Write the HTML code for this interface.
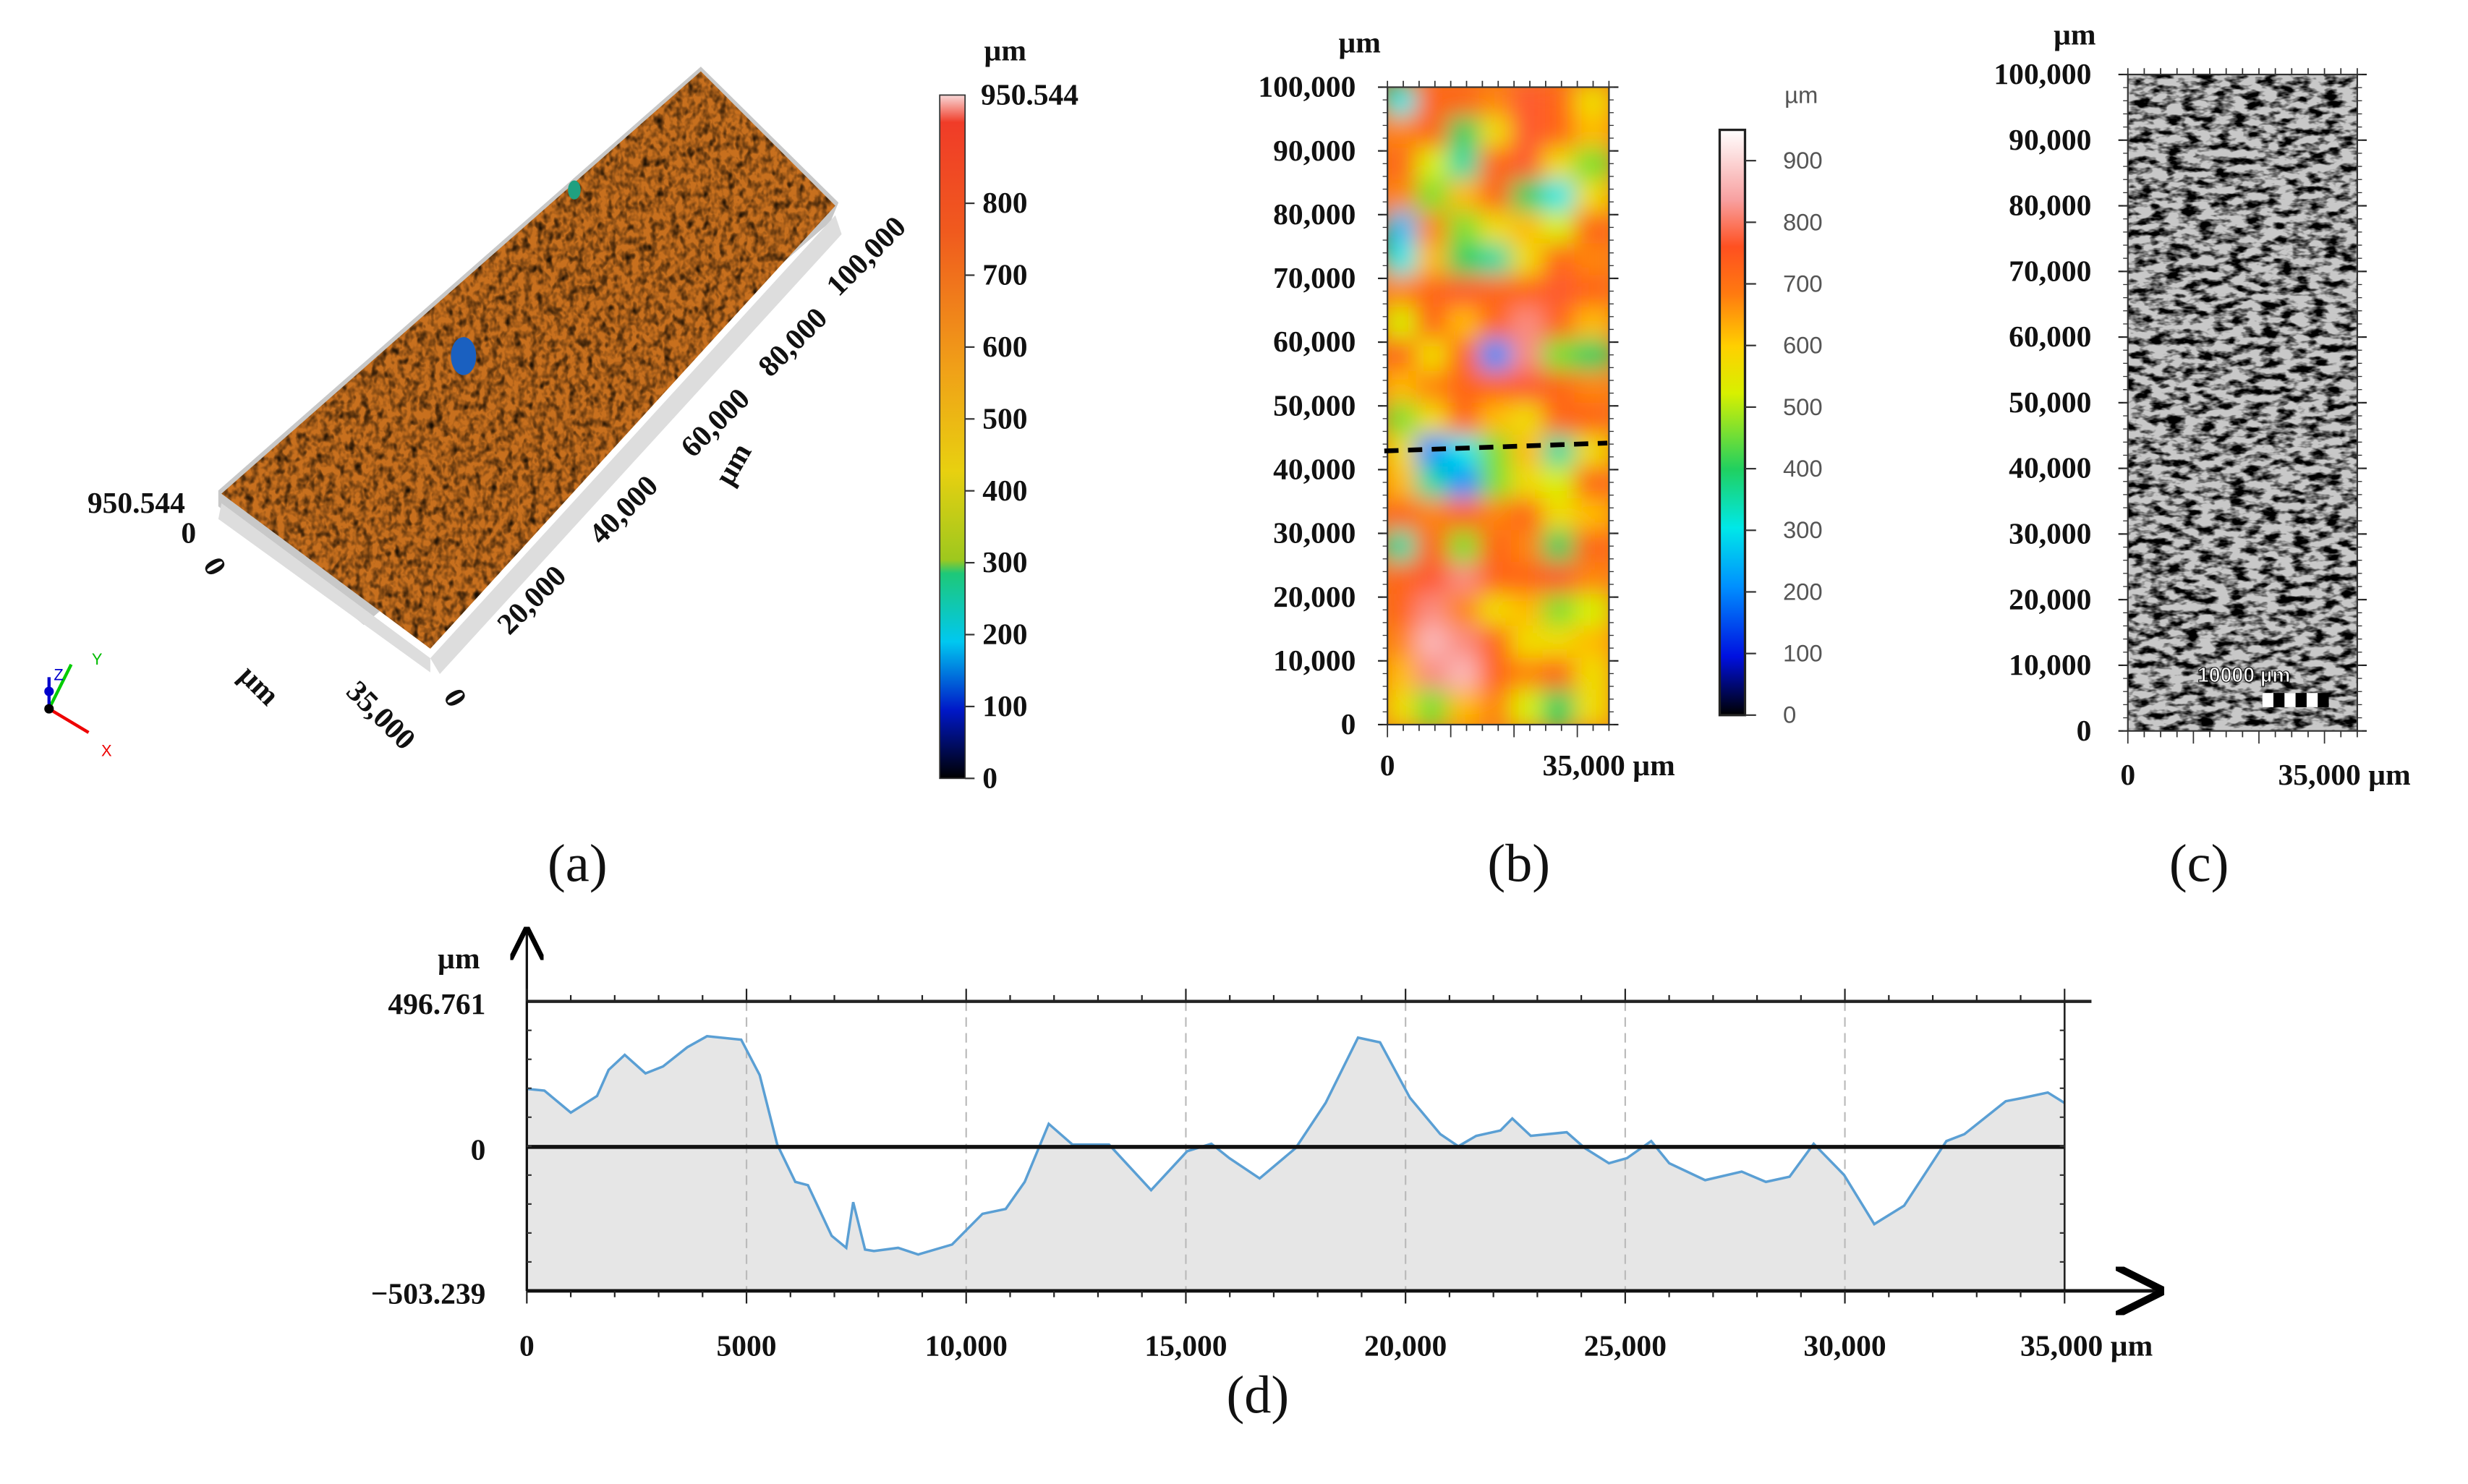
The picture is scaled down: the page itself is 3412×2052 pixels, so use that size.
<!DOCTYPE html>
<html><head><meta charset="utf-8"><style>
html,body{margin:0;padding:0;background:#fff;}
svg{display:block;}
.lb{font-family:"Liberation Serif",serif;font-weight:bold;font-size:19px;fill:#111;}
.cap{font-family:"Liberation Serif",serif;font-size:34px;fill:#111;}
.sl{font-family:"Liberation Sans",sans-serif;font-size:15px;fill:#555;}
</style></head><body>
<svg id="fig" width="3412" height="2052" viewBox="0 0 1560 938" xmlns="http://www.w3.org/2000/svg">
<defs>
<filter id="tex" x="0" y="0" width="100%" height="100%">
<feTurbulence type="fractalNoise" baseFrequency="0.25 0.2" numOctaves="2" seed="4"/>
<feColorMatrix type="matrix" values="0 0 0 0 0  0 0 0 0 0  0 0 0 0 0  0 0 0 -2.2 1.3"/>
<feComposite in2="SourceGraphic" operator="in"/>
</filter>
<filter id="tex2" x="0" y="0" width="100%" height="100%">
<feTurbulence type="fractalNoise" baseFrequency="0.2 0.15" numOctaves="2" seed="11"/>
<feColorMatrix type="matrix" values="0 0 0 0 0  0 0 0 0 0  0 0 0 0 0  0 0 0 3 -1.6"/>
<feComposite in2="SourceGraphic" operator="in"/>
</filter>
<filter id="gtex" x="0" y="0" width="100%" height="100%">
<feTurbulence type="fractalNoise" baseFrequency="0.1 0.22" numOctaves="3" seed="7"/>
<feColorMatrix type="matrix" values="0 0 0 0 0  0 0 0 0 0  0 0 0 0 0  0 0 0 -3.5 2.05"/>
<feComposite in2="SourceGraphic" operator="in"/>
</filter>
<filter id="blur"><feGaussianBlur stdDeviation="7"/></filter>
<linearGradient id="cbA" x1="0" y1="1" x2="0" y2="0">
<stop offset="0" stop-color="#000"/><stop offset="0.1" stop-color="#0018c8"/><stop offset="0.2" stop-color="#00c8f0"/><stop offset="0.3" stop-color="#1ec878"/><stop offset="0.32" stop-color="#9ec81e"/><stop offset="0.45" stop-color="#e8d010"/><stop offset="0.6" stop-color="#f0a018"/><stop offset="0.8" stop-color="#f05a1e"/><stop offset="0.96" stop-color="#f03c28"/><stop offset="1" stop-color="#f8d8d8"/>
</linearGradient>
<linearGradient id="cbB" x1="0" y1="1" x2="0" y2="0">
<stop offset="0" stop-color="#000"/><stop offset="0.1" stop-color="#0010e0"/><stop offset="0.22" stop-color="#0090ff"/><stop offset="0.32" stop-color="#00e8e8"/><stop offset="0.42" stop-color="#20d060"/><stop offset="0.55" stop-color="#d8f000"/><stop offset="0.63" stop-color="#ffd000"/><stop offset="0.72" stop-color="#ff7a10"/><stop offset="0.8" stop-color="#ff5020"/><stop offset="0.88" stop-color="#f8a0a0"/><stop offset="1" stop-color="#fff"/>
</linearGradient>
<clipPath id="clipB"><rect x="877" y="55" width="140" height="403"/></clipPath>
<marker id="ah" viewBox="0 0 10 10" refX="9" refY="5" markerWidth="14" markerHeight="14" orient="auto"><path d="M0,0 L10,5 L0,10" fill="none" stroke="#000" stroke-width="1.5"/></marker>
</defs>

<!-- Panel A -->
<g>
<polygon points="138,310 443,42 530,128 525,140 230,395 138,320" fill="#c8c8c8"/>
<polygon points="140,312 443,45 528,130 272,410" fill="#c8701e"/>
<polygon points="140,312 443,45 528,130 272,410" fill="#b8c020" filter="url(#tex2)" opacity="0.8"/>
<polygon points="140,312 443,45 528,130 272,410" fill="#3a4a10" filter="url(#tex)" opacity="0.6"/>
<ellipse cx="293" cy="225" rx="8" ry="12" fill="#1a60c0"/>
<ellipse cx="363" cy="120" rx="4" ry="6" fill="#20a080"/>
<polygon points="140,318 272,416 272,425 138,328" fill="#ddd"/>
<polygon points="272,416 528,136 532,148 278,426" fill="#ddd"/>
<text class="lb" x="117" y="324" text-anchor="end">950.544</text>
<text class="lb" x="124" y="343" text-anchor="end">0</text>
<text class="lb" transform="translate(128,357) rotate(60)">0</text>
<text class="lb" transform="translate(150,428) rotate(45)">µm</text>
<text class="lb" transform="translate(218,438) rotate(45)">35,000</text>
<text class="lb" transform="translate(280,440) rotate(60)">0</text>
<text class="lb" transform="translate(322,402) rotate(-45)">20,000</text>
<text class="lb" transform="translate(380,345) rotate(-45)">40,000</text>
<text class="lb" transform="translate(438,290) rotate(-45)">60,000</text>
<text class="lb" transform="translate(487,239) rotate(-45)">80,000</text>
<text class="lb" transform="translate(530,188) rotate(-45)">100,000</text>
<text class="lb" transform="translate(462,308) rotate(-60)">µm</text>
<g>
<line x1="31" y1="448" x2="45" y2="420" stroke="#0c0" stroke-width="2"/>
<line x1="31" y1="448" x2="56" y2="463" stroke="#e00" stroke-width="2"/>
<line x1="31" y1="448" x2="31" y2="428" stroke="#00c" stroke-width="2"/>
<circle cx="31" cy="448" r="3" fill="#000"/><circle cx="31" cy="437" r="3" fill="#00c"/>
<text x="34" y="430" font-size="10" fill="#00c" font-family="Liberation Sans">Z</text>
<text x="58" y="420" font-size="10" fill="#0b0" font-family="Liberation Sans">Y</text>
<text x="64" y="478" font-size="10" fill="#e00" font-family="Liberation Sans">X</text>
</g>
<g>
<rect x="594" y="60" width="16" height="432" fill="url(#cbA)" stroke="#333" stroke-width="0.8"/>
<text class="lb" x="622" y="38">µm</text>
<text class="lb" x="620" y="66">950.544</text>
<g id="cbAticks"></g>
</g>
<text class="cap" x="365" y="557" text-anchor="middle">(a)</text>
</g>

<!-- Panel B -->
<g>
<rect x="877" y="55" width="140" height="403" fill="#f07a20"/>
<g clip-path="url(#clipB)"><g id="heat" filter="url(#blur)"></g></g>
<rect x="877" y="55" width="140" height="403" fill="none" stroke="#333" stroke-width="1"/>
<g id="bTicks"></g>
<line x1="875" y1="285" x2="1016" y2="280" stroke="#000" stroke-width="3" stroke-dasharray="9,6"/>
<text class="lb" x="846" y="33">µm</text>
<text class="lb" x="877" y="490" text-anchor="middle">0</text>
<text class="lb" x="975" y="490">35,000 µm</text>
<g>
<rect x="1087" y="82" width="16" height="370" fill="url(#cbB)" stroke="#222" stroke-width="1.5"/>
<text class="sl" x="1128" y="65">µm</text>
<g id="cbBticks"></g>
</g>
<text class="cap" x="960" y="557" text-anchor="middle">(b)</text>
</g>

<!-- Panel C -->
<g>
<rect x="1345" y="47" width="145" height="415" fill="#c8c8c8"/>
<rect x="1345" y="47" width="145" height="415" fill="#000" filter="url(#gtex)"/>
<rect x="1345" y="47" width="145" height="415" fill="none" stroke="#333" stroke-width="1"/>
<g id="cTicks"></g>
<text class="lb" x="1298" y="28">µm</text>
<text class="lb" x="1345" y="496" text-anchor="middle">0</text>
<text class="lb" x="1440" y="496">35,000 µm</text>
<text x="1389" y="431" font-family="Liberation Sans" font-weight="bold" font-size="13" fill="#fff" stroke="#000" stroke-width="0.5">10000 µm</text>
<g><rect x="1430" y="438" width="42" height="9" fill="#000"/><rect x="1430" y="438" width="7" height="9" fill="#fff"/><rect x="1444" y="438" width="7" height="9" fill="#fff"/><rect x="1458" y="438" width="7" height="9" fill="#fff"/></g>
<text class="cap" x="1390" y="557" text-anchor="middle">(c)</text>
</g>

<!-- Panel D -->
<g>
<g id="prof"></g>
<text class="cap" x="795" y="893" text-anchor="middle">(d)</text>
</g>
</svg>
<script>
// Profile data (panel d)
const profX = [0,400,1000,1600,1860,2230,2700,3100,3650,4100,4880,5300,5700,6110,6400,6940,7270,7430,7700,7900,8450,8910,9680,10370,10900,11330,11880,12420,13250,14210,15030,15580,15990,16680,17500,18180,18920,19420,20100,20790,21200,21610,22160,22430,22850,23670,24080,24630,25040,25590,26000,26820,27650,28200,28740,29290,29980,30670,31350,32310,32720,33660,34070,34620,35000];
const profY = [198,192,117,174,263,314,251,275,340,378,366,245,8,-122,-134,-311,-353,-193,-359,-364,-353,-376,-341,-234,-217,-122,79,8,8,-151,-15,11,-39,-110,-4,150,373,357,168,44,2,38,56,97,38,50,-4,-57,-39,20,-57,-116,-86,-122,-104,11,-98,-270,-205,20,44,156,168,186,150];
const xTicks = [0,5000,10000,15000,20000,25000,30000,35000];
const xTickLabels = ["0","5000","10,000","15,000","20,000","25,000","30,000","35,000 µm"];
const yTicks = [496.761,0,-503.239];
const yTickLabels = ["496.761","0","\u2212503.239"];
// Heatmap (panel b), rows top (100k) to bottom (0), 7 columns
const heatVals = [
[300,700,700,650,750,700,550],[650,700,400,550,750,700,600],[700,500,350,700,750,550,450],
[650,450,600,700,400,300,550],[250,650,450,550,600,500,700],[300,600,400,350,550,700,650],
[650,700,750,700,700,750,700],[500,700,600,700,800,700,600],[700,550,700,200,800,450,400],
[600,650,700,700,750,700,650],[450,550,700,600,550,700,700],[550,200,300,450,600,350,550],
[600,350,200,450,550,500,700],[700,650,700,650,700,550,600],[350,700,450,700,650,400,700],
[700,750,800,700,700,750,650],[700,800,650,550,600,450,500],[650,850,800,700,550,550,600],
[600,800,850,700,650,700,550],[550,450,600,650,500,400,550]];
const mapTicks = [0,10000,20000,30000,40000,50000,60000,70000,80000,90000,100000];
const mapTickLabels = ["0","10,000","20,000","30,000","40,000","50,000","60,000","70,000","80,000","90,000","100,000"];
const cbATicks = [0,100,200,300,400,500,600,700,800];
const cbBTicks = [0,100,200,300,400,500,600,700,800,900];

const NS="http://www.w3.org/2000/svg";
function mk(parent,tag,attrs,txt){const e=document.createElementNS(NS,tag);for(const k in attrs)e.setAttribute(k,attrs[k]);if(txt!==undefined)e.textContent=txt;parent.appendChild(e);return e;}

// Panel d
const X0=333,X1=1305,YT=633,YZ=725,YB=816;
const sx=v=>X0+(v-0)/35000*(X1-X0);
const sy=v=>v>=0? YZ-(v/496.761)*(YZ-YT) : YZ+(-v/503.239)*(YB-YZ);
const P=document.getElementById('prof');
let d="M"+sx(profX[0])+","+YB;
profX.forEach((x,i)=>{d+=" L"+sx(x).toFixed(1)+","+sy(profY[i]).toFixed(1);});
d+=" L"+sx(profX[profX.length-1])+","+YB+" Z";
const area=mk(P,'path',{d:d,fill:'#e6e6e6'});


xTicks.slice(1,-1).forEach(t=>{const g=mk(P,'line',{x1:sx(t),x2:sx(t),y1:YT,y2:YB,stroke:'#bbb','stroke-dasharray':'6,4','stroke-width':1});

});
let ld="";profX.forEach((x,i)=>{ld+=(i?" L":"M")+sx(x).toFixed(1)+","+sy(profY[i]).toFixed(1);});
const line=mk(P,'path',{d:ld,fill:'none',stroke:'#5a9fd4','stroke-width':1.6});


mk(P,'line',{x1:X0,x2:1322,y1:YT,y2:YT,stroke:'#222','stroke-width':2});
mk(P,'line',{x1:X0,x2:X1,y1:YZ,y2:YZ,stroke:'#111','stroke-width':2.5});
mk(P,'line',{x1:X1,x2:X1,y1:YT,y2:YB,stroke:'#222','stroke-width':1.2});
const ax=mk(P,'line',{x1:X0,x2:1365,y1:YB,y2:YB,stroke:'#111','stroke-width':2.2,'marker-end':'url(#ah)'});


const ay=mk(P,'line',{x1:X0,x2:X0,y1:YB,y2:588,stroke:'#111','stroke-width':1.5,'marker-end':'url(#ah)'});


for(let t=0;t<=35000;t+=1000){const big=t%5000===0;
mk(P,'line',{x1:sx(t),x2:sx(t),y1:YT-(big?8:4),y2:YT,stroke:'#222','stroke-width':1});
mk(P,'line',{x1:sx(t),x2:sx(t),y1:YB,y2:YB+(big?8:4),stroke:'#222','stroke-width':1});}
for(let k=1;k<10;k++){const y=YT+k*(YB-YT)/10;mk(P,'line',{x1:X0,x2:X0+3,y1:y,y2:y,stroke:'#333'});mk(P,'line',{x1:X1-3,x2:X1,y1:y,y2:y,stroke:'#333'});}
xTicks.forEach((t,i)=>{const last=i===xTicks.length-1;const e=mk(P,'text',{x:last?sx(t)-28:sx(t),y:857,class:'lb','font-size':24,'text-anchor':last?'start':'middle'},xTickLabels[i]);

});
yTicks.forEach((t,i)=>{const e=mk(P,'text',{x:307,y:sy(t)+8,class:'lb','font-size':24,'text-anchor':'end'},yTickLabels[i]);

});
const yt=mk(P,'text',{x:290,y:612,class:'lb','font-size':24,'text-anchor':'middle'},'µm');



// Heatmap colors
const stops=[[0,[0,0,0]],[100,[0,16,224]],[200,[0,144,255]],[300,[0,232,232]],[400,[32,208,96]],[500,[216,240,0]],[580,[255,208,0]],[660,[255,122,16]],[740,[255,80,32]],[820,[248,160,160]],[950,[255,255,255]]];
function col(v){for(let i=1;i<stops.length;i++){if(v<=stops[i][0]){const a=stops[i-1],b=stops[i],f=(v-a[0])/(b[0]-a[0]);return 'rgb('+a[1].map((c,j)=>Math.round(c+(b[1][j]-c)*f)).join(',')+')';}}return '#fff';}
const H=document.getElementById('heat');
const cw=140/7, ch=403/20;
heatVals.forEach((row,r)=>row.forEach((v,c)=>{const e=mk(H,'rect',{x:877+c*cw-2,y:55+r*ch-2,width:cw+4,height:ch+4,fill:col(v)});

}));

// map ticks
function mapAxis(gid,x0,x1,y0,y1,lx){const g=document.getElementById(gid);
mapTicks.forEach((t,i)=>{const y=y1-(t/100000)*(y1-y0);
mk(g,'line',{x1:x0-6,x2:x0,y1:y,y2:y,stroke:'#222'});mk(g,'line',{x1:x1,x2:x1+6,y1:y,y2:y,stroke:'#222'});
const e=mk(g,'text',{x:lx,y:y+6,class:'lb','text-anchor':'end'},mapTickLabels[i]);

});
for(let k=0;k<=50;k++){const y=y1-k*(y1-y0)/50;mk(g,'line',{x1:x0-3,x2:x0,y1:y,y2:y,stroke:'#333','stroke-width':0.6});mk(g,'line',{x1:x1,x2:x1+3,y1:y,y2:y,stroke:'#333','stroke-width':0.6});}
for(let k=0;k<=14;k++){const x=x0+k*(x1-x0)/14;mk(g,'line',{x1:x,x2:x,y1:y0-4,y2:y0,stroke:'#333','stroke-width':0.8});mk(g,'line',{x1:x,x2:x,y1:y1,y2:y1+(k%4===0?8:4),stroke:'#333','stroke-width':0.8});}}
mapAxis('bTicks',877,1017,55,458,857);
mapAxis('cTicks',1345,1490,47,462,1322);

// colorbars
const gA=document.getElementById('cbAticks');
cbATicks.forEach(t=>{const y=492-t/950.544*432;mk(gA,'line',{x1:610,x2:616,y1:y,y2:y,stroke:'#333'});
const e=mk(gA,'text',{x:621,y:y+6,class:'lb'},String(t));

});
const gB=document.getElementById('cbBticks');
cbBTicks.forEach(t=>{const y=452-t/950*370;mk(gB,'line',{x1:1103,x2:1110,y1:y,y2:y,stroke:'#333'});
const e=mk(gB,'text',{x:1127,y:y+5,class:'sl'},String(t));

});
</script>
</body></html>
